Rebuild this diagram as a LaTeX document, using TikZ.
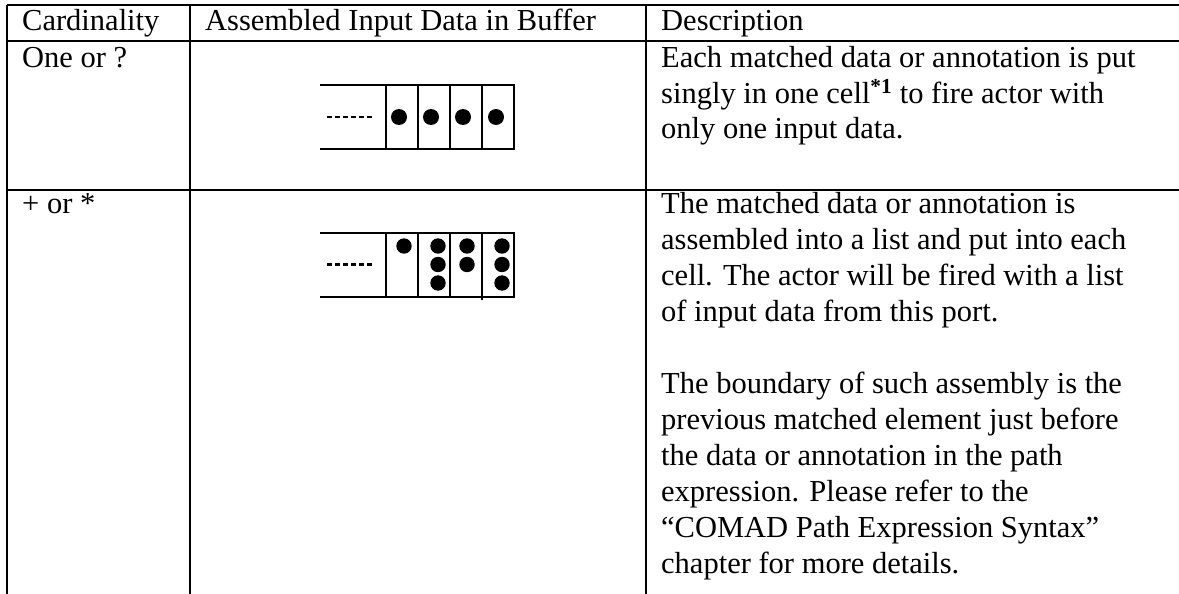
\documentclass[tikz,border=0pt]{standalone}
\usepackage{fontspec}
\setmainfont{Liberation Serif}
\newcommand\cellpar[4]{%
  \foreach \ln [count=\k from 0] in {#4}{%
    \node[txt] (#1-\k) at (#2,{#3+36*\k}) {\ln};}}
\begin{document}
\begin{tikzpicture}[x=1pt,y=-1pt,
  rule/.style={line width=2.6pt},
  cellline/.style={line width=1.8pt},
  dots/.style={line width=2.8pt, dash pattern=on 5pt off 3pt},
  txt/.style={anchor=base west, inner sep=0pt, font=\fontsize{30.5}{36}\selectfont},
  ball/.style={circle, fill=black, inner sep=0pt, minimum size=16pt},
  smallball/.style={circle, fill=black, inner sep=0pt, minimum size=15.4pt}]
\useasboundingbox (0,0) rectangle (1179,594);

% table rules
\draw[rule] (7,5) -- (1179,5);
\draw[rule] (7,41) -- (1179,41);
\draw[rule] (7,190) -- (1179,190);
\draw[rule] (7,5) -- (7,594);
\draw[rule] (190,5) -- (190,594);
\draw[rule] (646,5) -- (646,594);

% header row
\node[txt] (h1) at (22,31) {Cardinality};
\node[txt] (h2) at (205,31) {Assembled Input Data in Buffer};
\node[txt] (h3) at (661,31) {Description};

% first row
\node[txt] (c1) at (22,67) {One or ?};
\cellpar{d1}{661}{67}{Each matched data or annotation is put,
  singly in one cell\textsuperscript{\bfseries *1} to fire actor with,
  only one input data.}

% second row
\node[txt] (c2) at (22,213) {+ or *};
\cellpar{d2}{661}{213}{The matched data or annotation is,
  assembled into a list and put into each,
  cell. The actor will be fired with a list,
  of input data from this port.,
  {},
  The boundary of such assembly is the,
  previous matched element just before,
  the data or annotation in the path,
  expression. Please refer to the,
  “COMAD Path Expression Syntax”,
  chapter for more details.}

% buffer with single items
\draw[cellline] (320,85) -- (514,85) -- (514,149) -- (320,149);
\foreach \x in {386,418,450,482} \draw[cellline] (\x,85) -- (\x,149);
\coordinate (s0) at (327,117);
\coordinate (s1) at (372,117);
\draw[dots] (s0) -- (s1);
\node[ball] (a1) at (399,117) {};
\node[ball] (a2) at (431,117) {};
\node[ball] (a3) at (463,117) {};
\node[ball] (a4) at (496,117) {};

% buffer with item lists
\draw[cellline] (320,233) -- (514,233) -- (514,297) -- (320,297);
\foreach \x in {386,418,450} \draw[cellline] (\x,233) -- (\x,297);
\draw[cellline] (482,233) -- (482,299.5);
\coordinate (t0) at (327,264.5);
\coordinate (t1) at (372,264.5);
\draw[dots] (t0) -- (t1);
\node[smallball] (b1) at (404,246) {};
\node[smallball] (b2) at (438,246) {};
\node[smallball] (b3) at (438,264.5) {};
\node[smallball] (b4) at (438,283) {};
\node[smallball] (b5) at (467,246) {};
\node[smallball] (b6) at (467,264.5) {};
\node[smallball] (b7) at (502,246) {};
\node[smallball] (b8) at (502,264.5) {};
\node[smallball] (b9) at (502,283) {};
\end{tikzpicture}
\end{document}
